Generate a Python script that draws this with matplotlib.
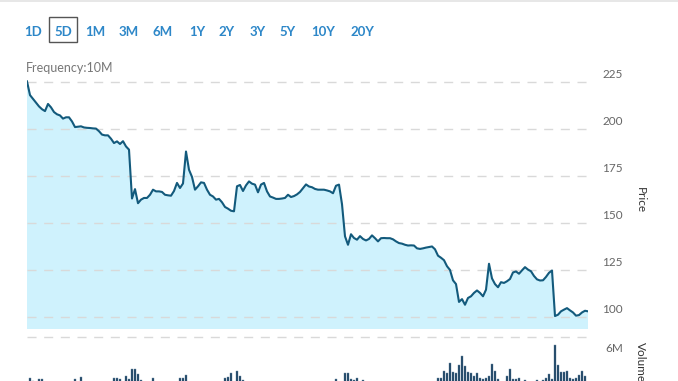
import numpy as np
import matplotlib
matplotlib.use("Agg")
import matplotlib.pyplot as plt
from matplotlib.transforms import offset_copy

plt.rcParams['font.family'] = ['Lato', 'DejaVu Sans']

# 价格（10分钟一根）
price = [
    225.3, 218, 216, 214, 212, 210.5, 209.5, 213.3, 211.5, 209,
    207.8, 207.2, 205.5, 206.2, 206.2, 204, 201, 201.2, 201.4, 200.8,
    200.6, 200.5, 200.3, 200.2, 198.8, 197, 196.6, 196.6, 194.8, 192.5,
    193.4, 192, 193.5, 190.7, 189, 163, 168, 160.5, 162.4, 163.3,
    163.3, 165, 167.7, 166.8, 166.8, 166.5, 165, 164.7, 164.5, 167,
    171.3, 168.6, 171, 188, 178.3, 174.5, 167.7, 169.5, 171.6, 171.3,
    167.7, 165, 164.1, 162.4, 162.8, 161, 158.5, 157.6, 156.5, 156.2,
    169.5, 170.2, 167, 170, 172.1, 170.9, 170.4, 166.3, 170.4, 171.3,
    166.8, 164.1, 163.5, 162.8, 162.8, 163, 163.3, 165, 163.8, 164.3,
    165.2, 166.5, 168.5, 170.5, 169.4, 169, 168.1, 167.7, 167.7, 167.7,
    167.3, 166.8, 165.8, 169.8, 170.4, 160, 142.9, 138.4, 144, 142,
    141.1, 143, 141.5, 140.7, 141.5, 143.4, 141.9, 140.2, 141.9, 142,
    141.9, 141.9, 141.3, 140.2, 139.3, 139, 138.4, 138, 138.1, 138,
    136.5, 136.2, 136.5, 136.9, 137.2, 137.5, 136, 132.6, 131.5, 130.2,
    127, 125, 119.5, 117.5, 108, 109.5, 106.5, 110.1, 111, 112.8,
    114.1, 112.8, 111, 114.5, 128.3, 120.5, 117.5, 115.8, 118.5, 118.1,
    119, 120.2, 123.7, 124.2, 123, 124.8, 126.5, 125.2, 124.3, 121.8,
    120, 119.4, 119.5, 121.3, 123.5, 124.7, 100.5, 101.2, 103, 103.9,
    104.7, 103.5, 102.4, 100.7, 101, 102.4, 103.3, 103,
]

# 成交量（百万）
volume = [
    3.0, 3.65, 3.4, 3.2, 3.6, 3.6, 3.0, 2.8, 2.9, 2.7,
    3.1, 2.8, 2.6, 2.9, 3.0, 3.2, 3.62, 3.1, 3.75, 3.0,
    2.8, 2.7, 2.9, 3.0, 2.6, 2.8, 3.1, 2.9, 3.2, 3.65,
    3.65, 3.6, 3.2, 3.9, 3.55, 4.6, 4.65, 4.1, 3.5, 3.2,
    3.1, 3.3, 3.7, 3.0, 2.8, 2.9, 2.7, 3.0, 3.1, 2.8,
    3.2, 3.65, 3.7, 3.95, 3.1, 2.9, 2.8, 3.0, 2.7, 2.9,
    3.1, 2.8, 3.0, 2.6, 2.9, 3.2, 3.65, 3.75, 4.25, 3.3,
    4.4, 3.9, 3.5, 3.1, 2.9, 2.8, 3.0, 2.7, 2.6, 2.9,
    3.0, 2.8, 2.7, 3.1, 2.9, 2.6, 2.8, 3.0, 2.7, 2.9,
    3.2, 2.8, 2.6, 2.9, 3.0, 2.8, 2.7, 3.1, 2.9, 3.0,
    2.8, 3.2, 3.3, 3.6, 3.2, 3.3, 4.25, 4.2, 3.55, 3.5,
    3.65, 3.3, 3.5, 3.1, 2.9, 2.8, 3.0, 2.7, 2.6, 2.9,
    3.0, 2.8, 2.7, 3.1, 2.9, 2.6, 2.8, 3.0, 2.7, 2.9,
    3.2, 2.8, 2.9, 3.0, 3.1, 3.2, 3.3, 3.65, 3.65, 4.4,
    4.25, 5.3, 4.35, 4.25, 5.1, 6.0, 4.9, 4.35, 4.25, 3.85,
    4.2, 3.65, 3.55, 3.65, 3.85, 5.2, 4.4, 3.55, 3.2, 3.3,
    3.85, 4.65, 3.55, 3.55, 3.65, 3.2, 3.45, 3.1, 3.2, 3.0,
    3.45, 3.2, 3.5, 3.65, 4.1, 3.55, 7.15, 5.05, 4.35, 4.35,
    4.45, 3.65, 3.55, 3.65, 4.0, 4.45, 3.85, 3.0,
]

price_ticks = [100, 125, 150, 175, 200, 225]
ranges = ['1D', '5D', '1M', '3M', '6M', '1Y', '2Y', '3Y', '5Y', '10Y', '20Y']
range_x = [33, 63, 95, 129, 163, 197, 227, 258, 288, 323, 362]

W, H = 678, 381
fig = plt.figure(figsize=(W / 100, H / 100), dpi=100)

line_color = '#135a7c'
fill_color = '#cff2fd'
grid_color = '#d9d9d9'
dash = (0, (6.5, 5.5))

x = np.arange(len(price))

# 价格面板
ax = fig.add_axes([27 / W, (H - 329) / H, 561 / W, 254 / H])
ax.fill_between(x, price, 0, color=fill_color, lw=0, zorder=1)
ax.plot(x, price, color=line_color, lw=1.5, zorder=3, solid_joinstyle='round')
for t in price_ticks:
    ax.axhline(t, color=grid_color, lw=1.0, ls=dash, zorder=2)
ax.set_xlim(0, len(price) - 1)
ax.set_ylim(93.6, 228.7)
ax.axis('off')

lab_tr = offset_copy(ax.get_yaxis_transform(), fig=fig, x=0, y=7, units='dots')
for t in price_ticks:
    ax.text(1 + 35 / 561, t, str(t), transform=lab_tr, ha='right', va='center',
            fontsize=8.5, color='#666666', clip_on=False)
fig.text(640 / W, 1 - 200 / H, 'Price', rotation=-90, ha='center', va='center',
         fontsize=8.5, color='#333333')

# 成交量面板（底部被裁掉）
axv = fig.add_axes([27 / W, (H - 413) / H, 561 / W, 76 / H])
axv.bar(x, volume, width=0.75, color='#163f60', edgecolor='#6d8aa3', lw=0.3)
axv.axhline(8, color=grid_color, lw=1.0, ls=dash, clip_on=False)
axv.set_xlim(0, len(price) - 1)
axv.set_ylim(0, 8)
axv.axis('off')
fig.text(623 / W, 1 - 349 / H, '6M', ha='right', va='center', fontsize=8.5, color='#666666')
fig.text(640 / W, 1 - 342 / H, 'Volume', rotation=-90, ha='center', va='top',
         fontsize=8.5, color='#333333')

# 顶部按钮
for lbl, bx in zip(ranges, range_x):
    fig.text(bx / W, 1 - 32 / H, lbl, ha='center', va='center', fontsize=9.5,
             fontweight='bold', color='#2d87c8')
fig.patches.append(plt.Rectangle((49 / W, 1 - 42 / H), 28 / W, 25 / H, transform=fig.transFigure,
                                 fill=False, ec='#555555', lw=1.0))
fig.text(26 / W, 1 - 68 / H, 'Frequency:10M', ha='left', va='center', fontsize=9, color='#777777')
fig.add_artist(plt.Line2D([0, 1], [1 - 0.5 / H, 1 - 0.5 / H], transform=fig.transFigure,
                          color='#e3e3e3', lw=1.2))

fig.savefig('out.png', dpi=100)
